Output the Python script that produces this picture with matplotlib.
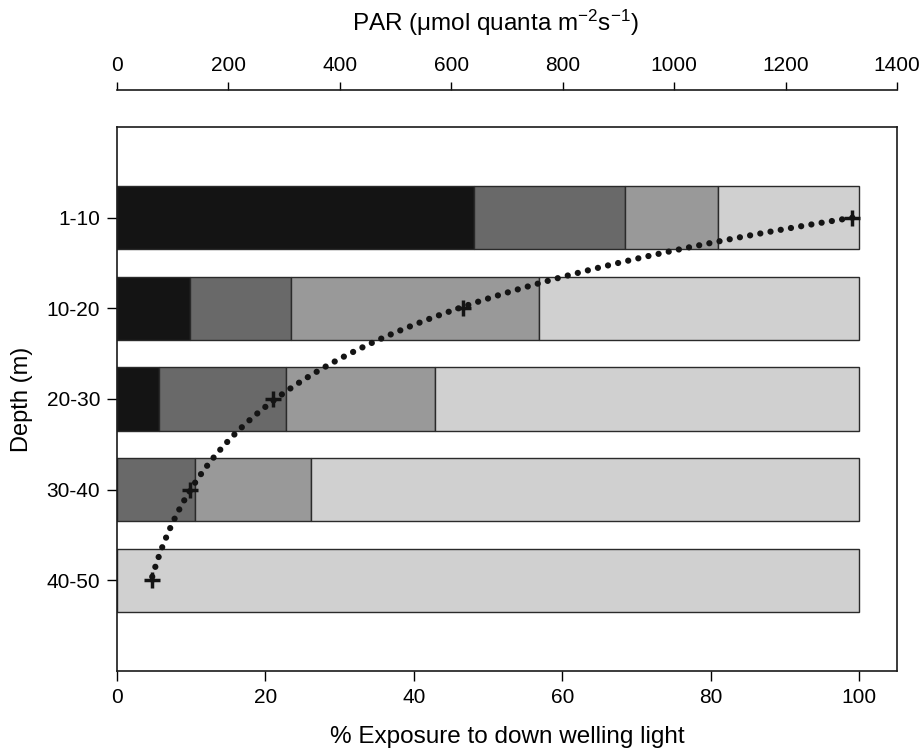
import numpy as np
import matplotlib
matplotlib.use("Agg")
import matplotlib.pyplot as plt

plt.rcParams['font.family'] = ['Liberation Sans', 'DejaVu Sans']
plt.rcParams['mathtext.default'] = 'regular'

depths = ["1-10", "10-20", "20-30", "30-40", "40-50"]
# widths (% exposure) of each light class per depth band
black = [48.1, 9.8, 5.7, 0, 0]
dark = [20.3, 13.7, 17.1, 10.5, 0]
medium = [12.6, 33.4, 20.1, 15.7, 0]
light = [19.0, 43.1, 57.1, 73.8, 100]
# PAR values (top axis) marked with crosses
par = [1320, 621, 280, 131, 62]

colors = ["#141414", "#696969", "#999999", "#d0d0d0"]

fig = plt.figure(figsize=(9.21, 7.49), dpi=100)
ax = fig.add_axes([117/921, 1-671/749, (897-117)/921, (671-127)/749])

y = np.arange(len(depths))
left = np.zeros(len(depths))
for vals, c in zip([black, dark, medium, light], colors):
    v = np.array(vals, dtype=float)
    m = v > 0
    ax.barh(y[m], v[m], left=left[m], height=0.7, color=c,
            edgecolor="#2a2a2a", linewidth=1.0, zorder=2)
    left += v

ax.set_xlim(0, 105.1)
ax.set_ylim(5, -1)
ax.set_yticks(y)
ax.set_yticklabels(depths)
ax.set_xticks([0, 20, 40, 60, 80, 100])
ax.tick_params(axis='both', direction='out', length=7, width=1, labelsize=15)
ax.tick_params(axis='y', pad=5)
ax.tick_params(axis='x', pad=5)
for s in ax.spines.values():
    s.set_linewidth(1.2)
    s.set_color("#1a1a1a")
ax.set_xlabel("% Exposure to down welling light", fontsize=17.5)
ax.xaxis.set_label_coords(0.5, (671 - 737) / 544)
ax.xaxis.label.set_va('center')
ax.set_ylabel("Depth (m)", fontsize=17)
ax.yaxis.set_label_coords((22 - 117) / 780, 0.5)
ax.yaxis.label.set_va('center')

ax2 = ax.twiny()
ax2.set_xlim(0, 1400)
ax2.set_xticks(np.arange(0, 1401, 200))
for k in ['left', 'right', 'bottom']:
    ax2.spines[k].set_visible(False)
ax2.spines['top'].set_position(('outward', 26.5))
ax2.spines['top'].set_linewidth(1.2)
ax2.spines['top'].set_color("#1a1a1a")
ax2.tick_params(axis='x', direction='out', length=6, width=1, labelsize=15, pad=5)
ax2.set_xlabel("PAR (μmol quanta m$^{-2}$s$^{-1}$)", fontsize=17.5)
ax2.xaxis.set_label_coords((495 - 117) / 780, (671 - 23) / 544)
ax2.xaxis.label.set_va('center')

# exponential fit of PAR with depth band (dotted trend curve)
coef = np.polyfit(y, np.log(par), 1)
yy = np.linspace(0, len(depths) - 1, 300)
ax2.plot(np.exp(np.polyval(coef, yy)), yy, color="#141414", lw=4.5,
         linestyle=(0, (0.01, 1.65)), dash_capstyle='round', zorder=3)
ax2.plot(par, y, linestyle='none', marker='+', markersize=12,
         markeredgewidth=2.5, color="#141414", zorder=4)

fig.savefig("out.png", dpi=100)
